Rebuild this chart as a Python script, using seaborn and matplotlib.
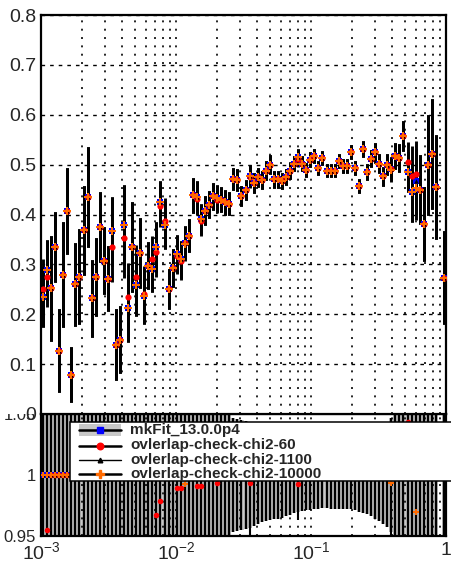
import matplotlib
matplotlib.use('Agg')

import matplotlib.pyplot as plt
from matplotlib.lines import Line2D
from matplotlib.patches import Rectangle
from matplotlib.transforms import Bbox, TransformedBbox
from matplotlib.ticker import LogLocator, FixedLocator, NullFormatter
import seaborn as sns
import numpy as np
import pandas as pd

sns.set_style('white')
plt.rcParams['font.family'] = ['Liberation Sans', 'DejaVu Sans']
plt.rcParams['mathtext.fontset'] = 'custom'
plt.rcParams['mathtext.rm'] = 'Liberation Sans'
plt.rcParams['lines.scale_dashes'] = False

W, H = 451, 570

# 100 log bins between 1e-3 and 1
bin_edges = np.logspace(-3, 0, 101)
bin_centers = np.sqrt(bin_edges[:-1] * bin_edges[1:])

# mkFit efficiency per bin (bin 98 empty)
mkfit_eff = [
    0.234, 0.288, 0.252, 0.335, 0.127, 0.279, 0.407, 0.079, 0.260, 0.275,
    0.368, 0.435, 0.232, 0.275, 0.375, 0.307, 0.271, 0.366, 0.139, 0.149,
    0.379, 0.212, 0.335, 0.259, 0.323, 0.236, 0.297, 0.291, 0.335, 0.426,
    0.378, 0.251, 0.292, 0.321, 0.310, 0.343, 0.357, 0.439, 0.435, 0.391,
    0.408, 0.420, 0.437, 0.433, 0.430, 0.425, 0.422, 0.471, 0.469, 0.437,
    0.449, 0.478, 0.463, 0.475, 0.470, 0.488, 0.500, 0.471, 0.471, 0.467,
    0.475, 0.487, 0.502, 0.515, 0.502, 0.490, 0.510, 0.517, 0.493, 0.513,
    0.488, 0.488, 0.488, 0.507, 0.497, 0.498, 0.525, 0.493, 0.457, 0.531,
    0.485, 0.512, 0.525, 0.502, 0.477, 0.500, 0.492, 0.517, 0.513, 0.557,
    0.485, 0.445, 0.467, 0.450, 0.381, 0.500, 0.522, 0.455, np.nan, 0.273,
]

# statistical uncertainty per bin (same for every series)
eff_err = [
    0.060, 0.060, 0.105, 0.070, 0.083, 0.105, 0.087, 0.055, 0.083, 0.095,
    0.090, 0.100, 0.077, 0.078, 0.070, 0.067, 0.065, 0.070, 0.071, 0.067,
    0.080, 0.067, 0.090, 0.063, 0.070, 0.056, 0.047, 0.047, 0.050, 0.042,
    0.047, 0.040, 0.038, 0.037, 0.037, 0.033, 0.033, 0.035, 0.033, 0.030,
    0.030, 0.028, 0.027, 0.026, 0.025, 0.025, 0.024, 0.022, 0.0216, 0.0197,
    0.0198, 0.0206, 0.0194, 0.019, 0.018, 0.0185, 0.0185, 0.017, 0.017, 0.0163,
    0.016, 0.016, 0.0156, 0.0155, 0.015, 0.0142, 0.0148, 0.0145, 0.0138, 0.0139,
    0.0132, 0.0137, 0.0137, 0.0142, 0.0139, 0.014, 0.0147, 0.0143, 0.0137, 0.0165,
    0.0155, 0.0174, 0.0189, 0.019, 0.019, 0.0215, 0.023, 0.026, 0.028, 0.030,
    0.040, 0.060, 0.065, 0.070, 0.075, 0.100, 0.110, 0.105, np.nan, 0.093,
]

# bins where the other series differ from mkFit
chi2_60_bins = [0, 1, 17, 20, 21, 23, 25, 27, 28, 29, 30, 33, 34, 38, 39, 43, 51, 63, 90, 91, 92]
chi2_60_vals = [0.250, 0.275, 0.335, 0.352, 0.235, 0.275, 0.240, 0.310, 0.324, 0.417, 0.386,
                0.3175, 0.3066, 0.431, 0.3875, 0.430, 0.4747, 0.5114, 0.506, 0.478, 0.482]
chi2_1100_bins = []
chi2_1100_vals = []
chi2_10000_bins = [35, 86, 92]
chi2_10000_vals = [0.3406, 0.4886, 0.453]

series_names = ['mkFit_13.0.0p4', 'ovlerlap-check-chi2-60',
                'ovlerlap-check-chi2-1100', 'ovlerlap-check-chi2-10000']


def make_series(bins, vals):
    y = np.array(mkfit_eff, dtype=float).copy()
    y[bins] = vals
    return y


base = np.array(mkfit_eff, dtype=float)
err = np.array(eff_err, dtype=float)
series_vals = [base,
               make_series(chi2_60_bins, chi2_60_vals),
               make_series(chi2_1100_bins, chi2_1100_vals),
               make_series(chi2_10000_bins, chi2_10000_vals)]

frames = []
for name, y in zip(series_names, series_vals):
    frames.append(pd.DataFrame({'x': bin_centers, 'eff': y, 'err': err,
                                'ratio': y / base, 'ratio_err': err / base,
                                'series': name}))
df = pd.concat(frames, ignore_index=True)

styles = {
    'mkFit_13.0.0p4': dict(marker='s', color='blue', s=18),
    'ovlerlap-check-chi2-60': dict(marker='o', color='red', s=20),
    'ovlerlap-check-chi2-1100': dict(marker='^', color='black', s=10),
    'ovlerlap-check-chi2-10000': dict(marker='P', color='#ff6a00', s=30),
}

fig = plt.figure(figsize=(W / 100, H / 100), dpi=100)
ax2 = fig.add_axes([41 / W, 1 - 536 / H, 405 / W, 122 / H])
ax1 = fig.add_axes([41 / W, 1 - 414 / H, 405 / W, 399 / H])

grid_dots = dict(color='black', lw=1.2, linestyle=(0, (1.4, 4.6)))
grid_dash = dict(color='black', lw=1.0, linestyle=(0, (2.6, 3.6)))

# ---------- upper panel ----------
for k, name in enumerate(series_names):
    d = df[df['series'] == name]
    ax1.errorbar(d['x'], d['eff'], yerr=d['err'], fmt='none', ecolor='black',
                 elinewidth=2.1, zorder=2)
    st = styles[name]
    sns.scatterplot(data=d, x='x', y='eff', marker=st['marker'], color=st['color'],
                    s=st['s'], linewidth=0, ax=ax1, zorder=3 + k, legend=False)

ax1.set_xscale('log')
ax1.set_xlim(1e-3, 1)
ax1.set_ylim(0, 0.8)
ax1.set_yticks(np.arange(0, 0.81, 0.1))
ax1.set_yticklabels(['0', '0.1', '0.2', '0.3', '0.4', '0.5', '0.6', '0.7', '0.8'])
ax1.yaxis.set_minor_locator(FixedLocator(np.arange(0, 0.801, 0.02)))
ax1.xaxis.set_major_locator(LogLocator(base=10, numticks=10))
ax1.xaxis.set_minor_locator(LogLocator(base=10, subs=np.arange(2, 10), numticks=20))
ax1.xaxis.set_major_formatter(NullFormatter())
ax1.xaxis.set_minor_formatter(NullFormatter())
ax1.set_xlabel('')
ax1.set_ylabel('')
ax1.grid(True, which='both', axis='x', **grid_dots)
ax1.grid(True, which='major', axis='y', **grid_dash)
ax1.set_axisbelow(True)
ax1.tick_params(axis='y', which='major', direction='in', length=10, width=1.5,
                labelsize=14, pad=3.5, right=False)
ax1.tick_params(axis='y', which='minor', direction='in', length=5, width=1.2, right=False)
ax1.tick_params(axis='x', which='major', direction='in', length=8, width=1.2, top=False)
ax1.tick_params(axis='x', which='minor', direction='in', length=5, width=1.2, top=False)
for sp in ax1.spines.values():
    sp.set_linewidth(1.6)
    sp.set_color('black')

# ---------- lower panel (ratio) ----------
rel = err / base
ax2.bar(bin_edges[:-1], 2 * rel, width=np.diff(bin_edges), bottom=1 - rel,
        align='edge', color='#c8c8c8', linewidth=0, zorder=1)
for k, name in enumerate(series_names):
    d = df[df['series'] == name]
    ax2.errorbar(d['x'], d['ratio'], yerr=d['ratio_err'], fmt='none', ecolor='black',
                 elinewidth=1.5, zorder=2)
    st = styles[name]
    sns.scatterplot(data=d, x='x', y='ratio', marker=st['marker'], color=st['color'],
                    s=st['s'] * 0.8, linewidth=0, ax=ax2, zorder=3 + k, legend=False)

ax2.set_xscale('log')
ax2.set_xlim(1e-3, 1)
ax2.set_ylim(0.95, 1.05)
ax2.set_yticks([0.95, 1.0, 1.05])
ax2.set_yticklabels(['0.95', '1', '1.05'])
ax2.set_xticks([1e-3, 1e-2, 1e-1, 1])
ax2.set_xticklabels([r'$10^{-3}$', r'$10^{-2}$', r'$10^{-1}$', '1'])
ax2.xaxis.set_minor_locator(LogLocator(base=10, subs=np.arange(2, 10), numticks=20))
ax2.xaxis.set_minor_formatter(NullFormatter())
ax2.set_xlabel('')
ax2.set_ylabel('')
ax2.grid(True, which='both', axis='x', **grid_dots)
ax2.set_axisbelow(False)
ax2.tick_params(axis='y', which='major', direction='in', length=10, width=1.5,
                labelsize=12, pad=3.5)
ax2.tick_params(axis='x', which='major', direction='in', length=8, width=1.2,
                labelsize=14, pad=4)
ax2.tick_params(axis='x', which='minor', direction='in', length=5, width=1.2)
for sp in ax2.spines.values():
    sp.set_linewidth(1.6)
    sp.set_color('black')
for gl in ax2.get_xgridlines():
    gl.set_zorder(1.5)

# the 1.05 label sits under the upper pad edge
clip = TransformedBbox(Bbox.from_extents(0, 0, 1, 1 - 414 / H), fig.transFigure)
lab = ax2.yaxis.get_major_ticks()[2].label1
lab.set_clip_box(clip)
lab.set_clip_on(True)

# ---------- legend box ----------
def fx(px):
    return px / W


def fy(py):
    return 1 - py / H


fig.add_artist(Rectangle((fx(70), fy(481)), fx(460) - fx(70), fy(422) - fy(481),
                         transform=fig.transFigure, facecolor='white',
                         edgecolor='black', lw=1.1, zorder=10))
row_y = [430, 445.5, 460, 474]
fig.add_artist(Rectangle((fx(79), fy(436)), fx(121) - fx(79), fy(424) - fy(436),
                         transform=fig.transFigure, facecolor='#c8c8c8',
                         edgecolor='none', zorder=11))
line_w = [1.8, 1.8, 1.0, 1.8]
for name, yy, lw in zip(series_names, row_y, line_w):
    st = styles[name]
    fig.add_artist(Line2D([fx(79), fx(121)], [fy(yy), fy(yy)], transform=fig.transFigure,
                          color='black', lw=lw, zorder=12))
    fig.add_artist(Line2D([fx(100)], [fy(yy)], transform=fig.transFigure, linestyle='none',
                          marker=st['marker'], markerfacecolor=st['color'],
                          markeredgecolor=st['color'], markersize=np.sqrt(st['s']) * 1.05,
                          zorder=13))
    fig.text(fx(130), fy(yy), name, fontsize=11, fontweight='bold', va='center',
             ha='left', zorder=13)

fig.savefig('out.png', dpi=100)
